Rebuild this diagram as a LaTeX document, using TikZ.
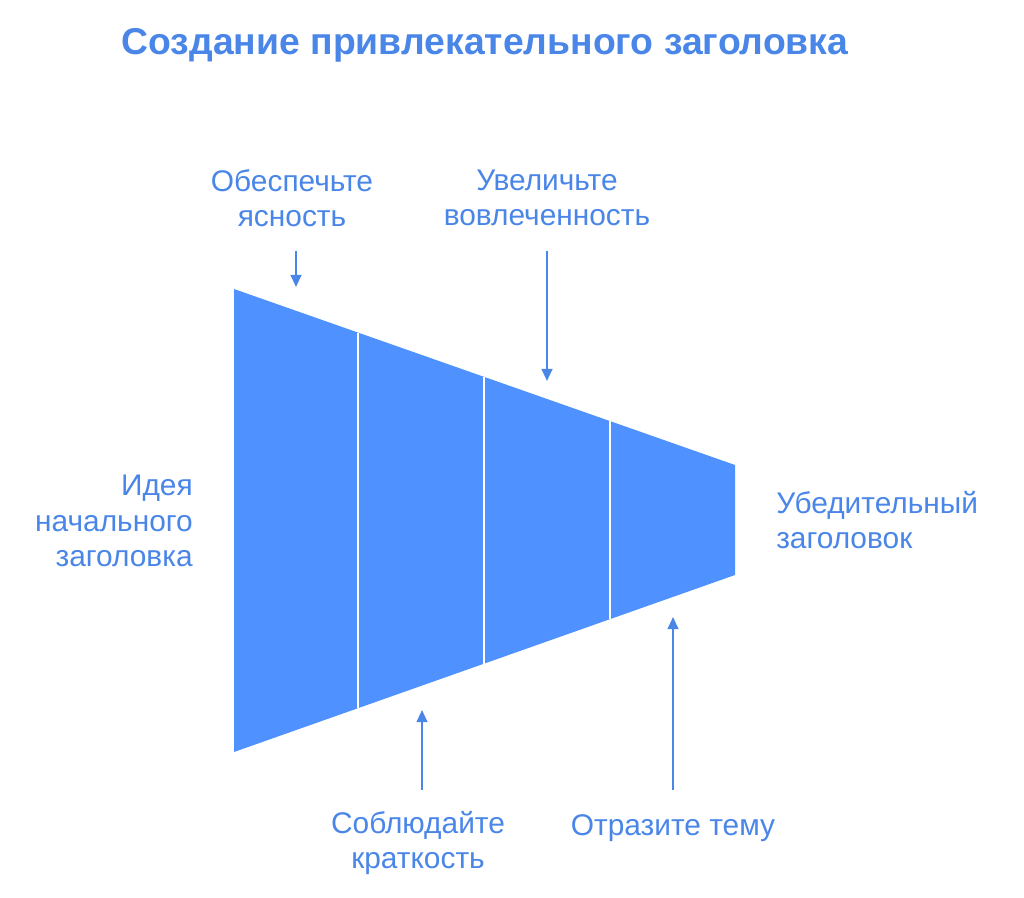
\documentclass[tikz,border=0pt]{standalone}
\usepackage{fontspec}
\setmainfont{Liberation Sans}
\usepackage{xcolor}
\usepackage{tikz}
\usetikzlibrary{calc,arrows.meta}

\definecolor{lblue}{HTML}{4A86E8}
\definecolor{fblue}{HTML}{4F92FF}

\begin{document}
\begin{tikzpicture}[x=0.75pt, y=-0.75pt, text=lblue,
		lbl/.style={inner sep=0pt, font=\fontsize{22.4}{26.6}\selectfont},
		arr/.style={draw=lblue, line width=1.5pt, -{Triangle[length=9pt, width=8pt]}}]
					\useasboundingbox (0,0) rectangle (1024,898);
					% title
					\node[inner sep=0pt, font=\fontsize{28}{33}\selectfont\bfseries] (title) at (485,45) {Создание привлекательного заголовка};
					% funnel
					\coordinate (tl) at (234,289);
					\coordinate (tr) at (735,465);
					\coordinate (br) at (735,575);
					\coordinate (bl) at (234,752);
					\fill[fblue] (tl) -- (tr) -- (br) -- (bl) -- cycle;
					\foreach \t in {0.2475,0.499,0.7505}
						\draw[white, line width=1.5pt] ($(tl)!\t!(tr)$) -- ($(bl)!\t!(br)$);
					% labels
					\node[lbl, align=right, anchor=east] (start) at (193,521) {Идея\\начального\\заголовка};
					\node[lbl, align=left, anchor=west] (goal) at (776,520) {Убедительный\\заголовок};
					\node[lbl, align=center] (clar) at (292,198) {Обеспечьте\\ясность};
					\node[lbl, align=center] (enga) at (547,198) {Увеличьте\\вовлеченность};
					\node[lbl, align=center] (brev) at (418,843) {Соблюдайте\\краткость};
					\node[lbl, align=center] (topic) at (673,828) {Отразите тему};
					% arrows
					\coordinate (clar s) at (296,251);
					\coordinate (clar e) at (296,287);
					\coordinate (enga s) at (547,251);
					\coordinate (enga e) at (547,381);
					\coordinate (brev s) at (422,790);
					\coordinate (brev e) at (422,710);
					\coordinate (topic s) at (673,790);
					\coordinate (topic e) at (673,617);
					\foreach \a in {clar,enga,brev,topic}
						\draw[arr] (\a\space s) -- (\a\space e);
				\end{tikzpicture}
\end{document}
